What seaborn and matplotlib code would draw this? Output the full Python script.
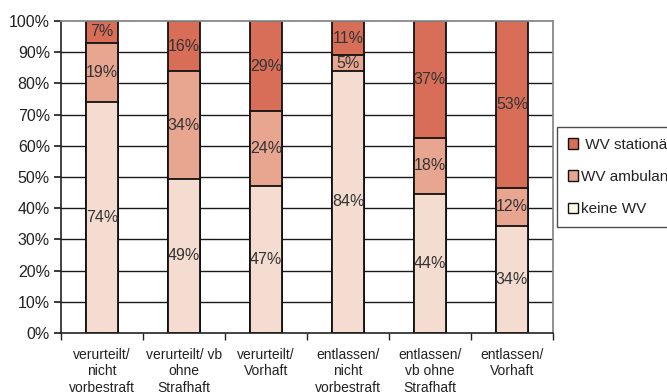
import numpy as np
import pandas as pd
import matplotlib
matplotlib.use('Agg')
import matplotlib.pyplot as plt
import seaborn as sns
from matplotlib.patches import Patch

# - data - #
categories = ['verurteilt/\nnicht\nvorbestraft', 'verurteilt/ vb\nohne\nStrafhaft', 'verurteilt/\nVorhaft',
              'entlassen/\nnicht\nvorbestraft', 'entlassen/\nvb ohne\nStrafhaft', 'entlassen/\nVorhaft']
keine_wv     = [74, 49, 47, 84, 44, 34]
wv_ambulant  = [19, 34, 24, 5, 18, 12]
wv_stationar = [7, 16, 29, 11, 37, 53]

col_stat = '#D86E58'
col_amb  = '#E8A690'
col_kein = '#F5DCD1'

sns.set_theme(style='white')
plt.rcParams['font.family'] = ['Liberation Sans', 'DejaVu Sans']

df = pd.DataFrame({'cat': categories, 'keine': keine_wv, 'amb': wv_ambulant, 'stat': wv_stationar})
tot = df[['keine', 'amb', 'stat']].sum(axis=1)
# 100% stacked, like Excel
df['p_keine'] = df['keine'] / tot * 100
df['p_amb'] = df['amb'] / tot * 100
df['p_stat'] = df['stat'] / tot * 100
df['c2'] = df['p_keine'] + df['p_amb']
df['c3'] = df['c2'] + df['p_stat']

fig = plt.figure(figsize=(6.67, 3.92), dpi=100)
ax = fig.add_axes([61/667, 59/392, 492/667, 312/392])

# grid first
for yv in np.arange(10, 100, 10):
    ax.axhline(yv, color='#1a1a1a', lw=1.0, zorder=0)

kw = dict(width=0.39, edgecolor='#111111', linewidth=1.3, zorder=2)
sns.barplot(data=df, x='cat', y='c3', color=col_stat, ax=ax, saturation=1, **kw)
sns.barplot(data=df, x='cat', y='c2', color=col_amb, ax=ax, saturation=1, **kw)
sns.barplot(data=df, x='cat', y='p_keine', color=col_kein, ax=ax, saturation=1, **kw)

# value labels
tc = '#333333'
fs = 11.5
for i, r in df.iterrows():
    ax.text(i, r['p_keine'] / 2, f"{r['keine']}%", ha='center', va='center', fontsize=fs, color=tc, zorder=3)
    ax.text(i, r['p_keine'] + r['p_amb'] / 2, f"{r['amb']}%", ha='center', va='center', fontsize=fs, color=tc, zorder=3)
    ax.text(i, r['c2'] + r['p_stat'] / 2, f"{r['stat']}%", ha='center', va='center', fontsize=fs, color=tc, zorder=3)

ax.set_xlim(-0.5, 5.5)
ax.set_ylim(0, 100)
ax.set_yticks(np.arange(0, 101, 10))
ax.set_yticklabels([f'{v}%' for v in range(0, 101, 10)], fontsize=11.5, color='#222222')
ax.set_xticks(range(6))
ax.set_xticklabels(categories, fontsize=10, color='#222222', linespacing=1.2)
ax.tick_params(axis='x', length=0, pad=11)
ax.set_xticks(np.arange(-0.5, 6, 1), minor=True)
ax.tick_params(axis='x', which='minor', length=5, direction='out', color='#222222', bottom=True)
ax.tick_params(axis='y', length=5, direction='out', color='#222222', left=True, pad=3)
ax.set_xlabel('')
ax.set_ylabel('')

for s in ['top', 'right']:
    ax.spines[s].set_color('#888888')
    ax.spines[s].set_linewidth(1.3)
for s in ['left', 'bottom']:
    ax.spines[s].set_color('#222222')
    ax.spines[s].set_linewidth(1.2)

handles = [Patch(facecolor=col_stat, edgecolor='#111111', label=' WV stationär'),
           Patch(facecolor=col_amb, edgecolor='#111111', label='WV ambulant'),
           Patch(facecolor='#FFFDE8', edgecolor='#111111', label='keine WV')]
leg = fig.legend(handles=handles, loc='upper left', bbox_to_anchor=(557/667, 1 - 127/392),
                 fontsize=11, frameon=True, fancybox=False, edgecolor='#222222',
                 handlelength=0.7, handleheight=0.7, handletextpad=0.2, labelspacing=1.2,
                 borderpad=0.7, borderaxespad=0)
leg.get_frame().set_linewidth(1.0)
for t in leg.get_texts():
    t.set_color('#222222')

fig.savefig('out.png', dpi=100)
